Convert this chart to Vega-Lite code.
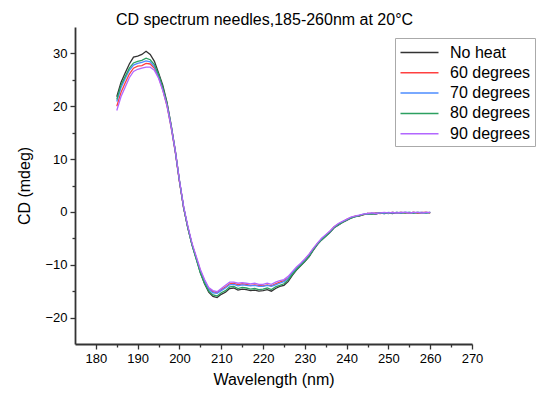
{
"$schema":"https://vega.github.io/schema/vega-lite/v6.json",
"autosize":{"type":"none"},
"padding":{"left":75,"top":27,"right":65,"bottom":50},
"width":397,"height":317,
"background":"white",
"config":{"font":"Liberation Sans","view":{"stroke":null}},
"title":{"text":"CD spectrum needles,185-260nm at 20°C","fontSize":16,"fontWeight":"normal","font":"Liberation Sans","color":"#000","anchor":"middle","offset":-1,"dx":-9},
"datasets":{"d":[
{"w":185,"s":"No heat","v":21.8},{"w":186,"s":"No heat","v":24.5},{"w":187,"s":"No heat","v":26.3},{"w":188,"s":"No heat","v":28.0},{"w":189,"s":"No heat","v":29.3},{"w":190,"s":"No heat","v":29.5},{"w":191,"s":"No heat","v":29.8},{"w":192,"s":"No heat","v":30.4},{"w":193,"s":"No heat","v":29.8},{"w":194,"s":"No heat","v":28.5},{"w":195,"s":"No heat","v":26.3},{"w":196,"s":"No heat","v":24.0},{"w":197,"s":"No heat","v":20.8},{"w":198,"s":"No heat","v":16.5},{"w":199,"s":"No heat","v":11.5},{"w":200,"s":"No heat","v":5.8},{"w":201,"s":"No heat","v":0.8},{"w":202,"s":"No heat","v":-3.0},{"w":203,"s":"No heat","v":-6.2},{"w":204,"s":"No heat","v":-8.8},{"w":205,"s":"No heat","v":-11.5},{"w":206,"s":"No heat","v":-13.6},{"w":207,"s":"No heat","v":-15.2},{"w":208,"s":"No heat","v":-16.0},{"w":209,"s":"No heat","v":-16.2},{"w":210,"s":"No heat","v":-15.6},{"w":211,"s":"No heat","v":-15.2},{"w":212,"s":"No heat","v":-14.5},{"w":213,"s":"No heat","v":-14.4},{"w":214,"s":"No heat","v":-14.8},{"w":215,"s":"No heat","v":-14.6},{"w":216,"s":"No heat","v":-14.7},{"w":217,"s":"No heat","v":-14.9},{"w":218,"s":"No heat","v":-14.8},{"w":219,"s":"No heat","v":-15.0},{"w":220,"s":"No heat","v":-14.9},{"w":221,"s":"No heat","v":-14.7},{"w":222,"s":"No heat","v":-15.0},{"w":223,"s":"No heat","v":-14.5},{"w":224,"s":"No heat","v":-14.1},{"w":225,"s":"No heat","v":-13.9},{"w":226,"s":"No heat","v":-13.2},{"w":227,"s":"No heat","v":-12.0},{"w":228,"s":"No heat","v":-11.0},{"w":229,"s":"No heat","v":-10.2},{"w":230,"s":"No heat","v":-9.4},{"w":231,"s":"No heat","v":-8.5},{"w":232,"s":"No heat","v":-7.3},{"w":233,"s":"No heat","v":-6.2},{"w":234,"s":"No heat","v":-5.3},{"w":235,"s":"No heat","v":-4.6},{"w":236,"s":"No heat","v":-3.9},{"w":237,"s":"No heat","v":-3.0},{"w":238,"s":"No heat","v":-2.5},{"w":239,"s":"No heat","v":-2.0},{"w":240,"s":"No heat","v":-1.6},{"w":241,"s":"No heat","v":-1.2},{"w":242,"s":"No heat","v":-0.9},{"w":243,"s":"No heat","v":-0.8},{"w":244,"s":"No heat","v":-0.5},{"w":245,"s":"No heat","v":-0.4},{"w":246,"s":"No heat","v":-0.3},{"w":247,"s":"No heat","v":-0.4},{"w":248,"s":"No heat","v":-0.2},{"w":249,"s":"No heat","v":-0.3},{"w":250,"s":"No heat","v":-0.2},{"w":251,"s":"No heat","v":-0.3},{"w":252,"s":"No heat","v":-0.1},{"w":253,"s":"No heat","v":-0.2},{"w":254,"s":"No heat","v":-0.1},{"w":255,"s":"No heat","v":-0.2},{"w":256,"s":"No heat","v":-0.1},{"w":257,"s":"No heat","v":-0.2},{"w":258,"s":"No heat","v":-0.2},{"w":259,"s":"No heat","v":-0.1},{"w":260,"s":"No heat","v":-0.2},
{"w":185,"s":"60 degrees","v":20.0},{"w":186,"s":"60 degrees","v":22.6},{"w":187,"s":"60 degrees","v":24.4},{"w":188,"s":"60 degrees","v":26.1},{"w":189,"s":"60 degrees","v":27.2},{"w":190,"s":"60 degrees","v":27.6},{"w":191,"s":"60 degrees","v":27.7},{"w":192,"s":"60 degrees","v":28.1},{"w":193,"s":"60 degrees","v":28.0},{"w":194,"s":"60 degrees","v":27.2},{"w":195,"s":"60 degrees","v":25.5},{"w":196,"s":"60 degrees","v":23.1},{"w":197,"s":"60 degrees","v":20.1},{"w":198,"s":"60 degrees","v":16.0},{"w":199,"s":"60 degrees","v":11.3},{"w":200,"s":"60 degrees","v":5.7},{"w":201,"s":"60 degrees","v":0.7},{"w":202,"s":"60 degrees","v":-2.9},{"w":203,"s":"60 degrees","v":-6.1},{"w":204,"s":"60 degrees","v":-8.6},{"w":205,"s":"60 degrees","v":-11.1},{"w":206,"s":"60 degrees","v":-13.0},{"w":207,"s":"60 degrees","v":-14.5},{"w":208,"s":"60 degrees","v":-15.1},{"w":209,"s":"60 degrees","v":-15.3},{"w":210,"s":"60 degrees","v":-14.7},{"w":211,"s":"60 degrees","v":-14.2},{"w":212,"s":"60 degrees","v":-13.6},{"w":213,"s":"60 degrees","v":-13.5},{"w":214,"s":"60 degrees","v":-13.8},{"w":215,"s":"60 degrees","v":-13.6},{"w":216,"s":"60 degrees","v":-13.7},{"w":217,"s":"60 degrees","v":-13.9},{"w":218,"s":"60 degrees","v":-13.8},{"w":219,"s":"60 degrees","v":-13.9},{"w":220,"s":"60 degrees","v":-14.0},{"w":221,"s":"60 degrees","v":-13.8},{"w":222,"s":"60 degrees","v":-14.0},{"w":223,"s":"60 degrees","v":-13.6},{"w":224,"s":"60 degrees","v":-13.3},{"w":225,"s":"60 degrees","v":-13.0},{"w":226,"s":"60 degrees","v":-12.5},{"w":227,"s":"60 degrees","v":-11.5},{"w":228,"s":"60 degrees","v":-10.6},{"w":229,"s":"60 degrees","v":-9.9},{"w":230,"s":"60 degrees","v":-9.0},{"w":231,"s":"60 degrees","v":-8.1},{"w":232,"s":"60 degrees","v":-7.0},{"w":233,"s":"60 degrees","v":-6.0},{"w":234,"s":"60 degrees","v":-5.1},{"w":235,"s":"60 degrees","v":-4.4},{"w":236,"s":"60 degrees","v":-3.7},{"w":237,"s":"60 degrees","v":-2.8},{"w":238,"s":"60 degrees","v":-2.3},{"w":239,"s":"60 degrees","v":-1.9},{"w":240,"s":"60 degrees","v":-1.4},{"w":241,"s":"60 degrees","v":-1.1},{"w":242,"s":"60 degrees","v":-0.8},{"w":243,"s":"60 degrees","v":-0.7},{"w":244,"s":"60 degrees","v":-0.5},{"w":245,"s":"60 degrees","v":-0.3},{"w":246,"s":"60 degrees","v":-0.3},{"w":247,"s":"60 degrees","v":-0.2},{"w":248,"s":"60 degrees","v":-0.3},{"w":249,"s":"60 degrees","v":-0.2},{"w":250,"s":"60 degrees","v":-0.2},{"w":251,"s":"60 degrees","v":-0.1},{"w":252,"s":"60 degrees","v":-0.2},{"w":253,"s":"60 degrees","v":-0.1},{"w":254,"s":"60 degrees","v":-0.2},{"w":255,"s":"60 degrees","v":-0.2},{"w":256,"s":"60 degrees","v":-0.1},{"w":257,"s":"60 degrees","v":-0.2},{"w":258,"s":"60 degrees","v":-0.1},{"w":259,"s":"60 degrees","v":-0.1},{"w":260,"s":"60 degrees","v":-0.2},
{"w":185,"s":"70 degrees","v":20.9},{"w":186,"s":"70 degrees","v":23.5},{"w":187,"s":"70 degrees","v":25.2},{"w":188,"s":"70 degrees","v":26.8},{"w":189,"s":"70 degrees","v":27.8},{"w":190,"s":"70 degrees","v":28.1},{"w":191,"s":"70 degrees","v":28.3},{"w":192,"s":"70 degrees","v":28.6},{"w":193,"s":"70 degrees","v":28.4},{"w":194,"s":"70 degrees","v":27.5},{"w":195,"s":"70 degrees","v":25.8},{"w":196,"s":"70 degrees","v":23.3},{"w":197,"s":"70 degrees","v":20.3},{"w":198,"s":"70 degrees","v":16.2},{"w":199,"s":"70 degrees","v":11.4},{"w":200,"s":"70 degrees","v":5.8},{"w":201,"s":"70 degrees","v":0.8},{"w":202,"s":"70 degrees","v":-2.9},{"w":203,"s":"70 degrees","v":-6.2},{"w":204,"s":"70 degrees","v":-8.8},{"w":205,"s":"70 degrees","v":-11.3},{"w":206,"s":"70 degrees","v":-13.2},{"w":207,"s":"70 degrees","v":-14.7},{"w":208,"s":"70 degrees","v":-15.3},{"w":209,"s":"70 degrees","v":-15.4},{"w":210,"s":"70 degrees","v":-14.9},{"w":211,"s":"70 degrees","v":-14.4},{"w":212,"s":"70 degrees","v":-13.8},{"w":213,"s":"70 degrees","v":-13.7},{"w":214,"s":"70 degrees","v":-14.0},{"w":215,"s":"70 degrees","v":-13.8},{"w":216,"s":"70 degrees","v":-13.9},{"w":217,"s":"70 degrees","v":-14.0},{"w":218,"s":"70 degrees","v":-13.9},{"w":219,"s":"70 degrees","v":-14.1},{"w":220,"s":"70 degrees","v":-14.1},{"w":221,"s":"70 degrees","v":-13.9},{"w":222,"s":"70 degrees","v":-14.1},{"w":223,"s":"70 degrees","v":-13.8},{"w":224,"s":"70 degrees","v":-13.5},{"w":225,"s":"70 degrees","v":-13.2},{"w":226,"s":"70 degrees","v":-12.6},{"w":227,"s":"70 degrees","v":-11.6},{"w":228,"s":"70 degrees","v":-10.7},{"w":229,"s":"70 degrees","v":-10.0},{"w":230,"s":"70 degrees","v":-9.2},{"w":231,"s":"70 degrees","v":-8.3},{"w":232,"s":"70 degrees","v":-7.1},{"w":233,"s":"70 degrees","v":-6.1},{"w":234,"s":"70 degrees","v":-5.2},{"w":235,"s":"70 degrees","v":-4.5},{"w":236,"s":"70 degrees","v":-3.8},{"w":237,"s":"70 degrees","v":-2.9},{"w":238,"s":"70 degrees","v":-2.4},{"w":239,"s":"70 degrees","v":-1.9},{"w":240,"s":"70 degrees","v":-1.5},{"w":241,"s":"70 degrees","v":-1.1},{"w":242,"s":"70 degrees","v":-0.9},{"w":243,"s":"70 degrees","v":-0.7},{"w":244,"s":"70 degrees","v":-0.4},{"w":245,"s":"70 degrees","v":-0.4},{"w":246,"s":"70 degrees","v":-0.3},{"w":247,"s":"70 degrees","v":-0.3},{"w":248,"s":"70 degrees","v":-0.2},{"w":249,"s":"70 degrees","v":-0.3},{"w":250,"s":"70 degrees","v":-0.1},{"w":251,"s":"70 degrees","v":-0.2},{"w":252,"s":"70 degrees","v":-0.1},{"w":253,"s":"70 degrees","v":-0.2},{"w":254,"s":"70 degrees","v":-0.1},{"w":255,"s":"70 degrees","v":-0.1},{"w":256,"s":"70 degrees","v":-0.2},{"w":257,"s":"70 degrees","v":-0.1},{"w":258,"s":"70 degrees","v":-0.1},{"w":259,"s":"70 degrees","v":-0.2},{"w":260,"s":"70 degrees","v":-0.1},
{"w":185,"s":"80 degrees","v":21.3},{"w":186,"s":"80 degrees","v":24.0},{"w":187,"s":"80 degrees","v":25.6},{"w":188,"s":"80 degrees","v":27.2},{"w":189,"s":"80 degrees","v":28.2},{"w":190,"s":"80 degrees","v":28.5},{"w":191,"s":"80 degrees","v":28.7},{"w":192,"s":"80 degrees","v":29.1},{"w":193,"s":"80 degrees","v":28.8},{"w":194,"s":"80 degrees","v":27.9},{"w":195,"s":"80 degrees","v":26.0},{"w":196,"s":"80 degrees","v":23.6},{"w":197,"s":"80 degrees","v":20.6},{"w":198,"s":"80 degrees","v":16.4},{"w":199,"s":"80 degrees","v":11.6},{"w":200,"s":"80 degrees","v":5.9},{"w":201,"s":"80 degrees","v":0.8},{"w":202,"s":"80 degrees","v":-3.0},{"w":203,"s":"80 degrees","v":-6.3},{"w":204,"s":"80 degrees","v":-8.9},{"w":205,"s":"80 degrees","v":-11.5},{"w":206,"s":"80 degrees","v":-13.5},{"w":207,"s":"80 degrees","v":-15.0},{"w":208,"s":"80 degrees","v":-15.7},{"w":209,"s":"80 degrees","v":-15.9},{"w":210,"s":"80 degrees","v":-15.3},{"w":211,"s":"80 degrees","v":-14.9},{"w":212,"s":"80 degrees","v":-14.2},{"w":213,"s":"80 degrees","v":-14.1},{"w":214,"s":"80 degrees","v":-14.5},{"w":215,"s":"80 degrees","v":-14.3},{"w":216,"s":"80 degrees","v":-14.4},{"w":217,"s":"80 degrees","v":-14.6},{"w":218,"s":"80 degrees","v":-14.5},{"w":219,"s":"80 degrees","v":-14.7},{"w":220,"s":"80 degrees","v":-14.6},{"w":221,"s":"80 degrees","v":-14.4},{"w":222,"s":"80 degrees","v":-14.7},{"w":223,"s":"80 degrees","v":-14.2},{"w":224,"s":"80 degrees","v":-13.9},{"w":225,"s":"80 degrees","v":-13.6},{"w":226,"s":"80 degrees","v":-12.9},{"w":227,"s":"80 degrees","v":-11.8},{"w":228,"s":"80 degrees","v":-10.9},{"w":229,"s":"80 degrees","v":-10.1},{"w":230,"s":"80 degrees","v":-9.3},{"w":231,"s":"80 degrees","v":-8.4},{"w":232,"s":"80 degrees","v":-7.2},{"w":233,"s":"80 degrees","v":-6.1},{"w":234,"s":"80 degrees","v":-5.3},{"w":235,"s":"80 degrees","v":-4.6},{"w":236,"s":"80 degrees","v":-3.8},{"w":237,"s":"80 degrees","v":-3.0},{"w":238,"s":"80 degrees","v":-2.4},{"w":239,"s":"80 degrees","v":-2.0},{"w":240,"s":"80 degrees","v":-1.5},{"w":241,"s":"80 degrees","v":-1.2},{"w":242,"s":"80 degrees","v":-0.9},{"w":243,"s":"80 degrees","v":-0.7},{"w":244,"s":"80 degrees","v":-0.5},{"w":245,"s":"80 degrees","v":-0.3},{"w":246,"s":"80 degrees","v":-0.4},{"w":247,"s":"80 degrees","v":-0.3},{"w":248,"s":"80 degrees","v":-0.2},{"w":249,"s":"80 degrees","v":-0.2},{"w":250,"s":"80 degrees","v":-0.3},{"w":251,"s":"80 degrees","v":-0.1},{"w":252,"s":"80 degrees","v":-0.2},{"w":253,"s":"80 degrees","v":-0.1},{"w":254,"s":"80 degrees","v":-0.2},{"w":255,"s":"80 degrees","v":-0.1},{"w":256,"s":"80 degrees","v":-0.2},{"w":257,"s":"80 degrees","v":-0.1},{"w":258,"s":"80 degrees","v":-0.2},{"w":259,"s":"80 degrees","v":-0.2},{"w":260,"s":"80 degrees","v":-0.1},
{"w":185,"s":"90 degrees","v":19.2},{"w":186,"s":"90 degrees","v":21.8},{"w":187,"s":"90 degrees","v":23.6},{"w":188,"s":"90 degrees","v":25.4},{"w":189,"s":"90 degrees","v":26.6},{"w":190,"s":"90 degrees","v":27.0},{"w":191,"s":"90 degrees","v":27.2},{"w":192,"s":"90 degrees","v":27.4},{"w":193,"s":"90 degrees","v":27.4},{"w":194,"s":"90 degrees","v":26.8},{"w":195,"s":"90 degrees","v":25.3},{"w":196,"s":"90 degrees","v":23.0},{"w":197,"s":"90 degrees","v":20.2},{"w":198,"s":"90 degrees","v":16.2},{"w":199,"s":"90 degrees","v":11.6},{"w":200,"s":"90 degrees","v":6.0},{"w":201,"s":"90 degrees","v":1.0},{"w":202,"s":"90 degrees","v":-2.7},{"w":203,"s":"90 degrees","v":-5.9},{"w":204,"s":"90 degrees","v":-8.4},{"w":205,"s":"90 degrees","v":-10.9},{"w":206,"s":"90 degrees","v":-12.8},{"w":207,"s":"90 degrees","v":-14.3},{"w":208,"s":"90 degrees","v":-14.9},{"w":209,"s":"90 degrees","v":-15.1},{"w":210,"s":"90 degrees","v":-14.5},{"w":211,"s":"90 degrees","v":-13.9},{"w":212,"s":"90 degrees","v":-13.3},{"w":213,"s":"90 degrees","v":-13.3},{"w":214,"s":"90 degrees","v":-13.5},{"w":215,"s":"90 degrees","v":-13.4},{"w":216,"s":"90 degrees","v":-13.5},{"w":217,"s":"90 degrees","v":-13.6},{"w":218,"s":"90 degrees","v":-13.5},{"w":219,"s":"90 degrees","v":-13.7},{"w":220,"s":"90 degrees","v":-13.7},{"w":221,"s":"90 degrees","v":-13.5},{"w":222,"s":"90 degrees","v":-13.7},{"w":223,"s":"90 degrees","v":-13.3},{"w":224,"s":"90 degrees","v":-13.0},{"w":225,"s":"90 degrees","v":-12.8},{"w":226,"s":"90 degrees","v":-12.2},{"w":227,"s":"90 degrees","v":-11.3},{"w":228,"s":"90 degrees","v":-10.4},{"w":229,"s":"90 degrees","v":-9.7},{"w":230,"s":"90 degrees","v":-8.9},{"w":231,"s":"90 degrees","v":-8.0},{"w":232,"s":"90 degrees","v":-6.9},{"w":233,"s":"90 degrees","v":-5.9},{"w":234,"s":"90 degrees","v":-5.0},{"w":235,"s":"90 degrees","v":-4.3},{"w":236,"s":"90 degrees","v":-3.6},{"w":237,"s":"90 degrees","v":-2.8},{"w":238,"s":"90 degrees","v":-2.2},{"w":239,"s":"90 degrees","v":-1.8},{"w":240,"s":"90 degrees","v":-1.4},{"w":241,"s":"90 degrees","v":-1.0},{"w":242,"s":"90 degrees","v":-0.8},{"w":243,"s":"90 degrees","v":-0.6},{"w":244,"s":"90 degrees","v":-0.4},{"w":245,"s":"90 degrees","v":-0.3},{"w":246,"s":"90 degrees","v":-0.2},{"w":247,"s":"90 degrees","v":-0.3},{"w":248,"s":"90 degrees","v":-0.2},{"w":249,"s":"90 degrees","v":-0.1},{"w":250,"s":"90 degrees","v":-0.2},{"w":251,"s":"90 degrees","v":-0.1},{"w":252,"s":"90 degrees","v":-0.2},{"w":253,"s":"90 degrees","v":-0.1},{"w":254,"s":"90 degrees","v":-0.1},{"w":255,"s":"90 degrees","v":-0.2},{"w":256,"s":"90 degrees","v":-0.1},{"w":257,"s":"90 degrees","v":-0.1},{"w":258,"s":"90 degrees","v":-0.2},{"w":259,"s":"90 degrees","v":-0.1},{"w":260,"s":"90 degrees","v":-0.1}
]},
"data":{"name":"d"},
"mark":{"type":"line","strokeWidth":1.3,"interpolate":"linear"},
"encoding":{
"x":{"field":"w","type":"quantitative","scale":{"domain":[175,270],"nice":false,"zero":false},
"axis":{"title":"Wavelength (nm)","titleFontSize":16,"titleFontWeight":"normal","titleColor":"#000","titlePadding":6,
"values":[180,185,190,195,200,205,210,215,220,225,230,235,240,245,250,255,260,265,270],
"labelExpr":"datum.value % 10 === 0 ? datum.label : ''","labelFontSize":13,"labelColor":"#000","labelPadding":3,
"tickSize":{"condition":{"test":"datum.value % 10 === 0","value":5},"value":3},"tickColor":"#333","tickWidth":1.3,
"domainColor":"#333","domainWidth":1.8,"grid":false,"labelFlush":false,"labelOverlap":false}},
"y":{"field":"v","type":"quantitative","scale":{"domain":[-25,35],"nice":false,"zero":false},
"axis":{"title":"CD (mdeg)","titleFontSize":16,"titleFontWeight":"normal","titleColor":"#000","titlePadding":12,
"values":[-20,-15,-10,-5,0,5,10,15,20,25,30],
"labelExpr":"datum.value % 10 === 0 ? datum.label : ''","labelFontSize":13,"labelColor":"#000","labelPadding":3,
"tickSize":{"condition":{"test":"datum.value % 10 === 0","value":5},"value":3},"tickColor":"#333","tickWidth":1.3,
"domainColor":"#333","domainWidth":1.8,"grid":false,"labelFlush":false,"labelOverlap":false}},
"color":{"field":"s","type":"nominal","sort":["No heat","60 degrees","70 degrees","80 degrees","90 degrees"],
"scale":{"domain":["No heat","60 degrees","70 degrees","80 degrees","90 degrees"],"range":["#333333","#ff4040","#4d8cff","#2ca060","#b266ff"]},
"legend":{"title":null,"orient":"none","legendX":320,"legendY":11,"strokeColor":"#aaa","fillColor":"white","padding":4,
"symbolType":"M-2,0H2","symbolSize":361,"symbolStrokeWidth":1.5,"symbolOffset":10,"labelFontSize":16,"labelColor":"#000","labelOffset":20,"rowPadding":1.3}}
}
}
